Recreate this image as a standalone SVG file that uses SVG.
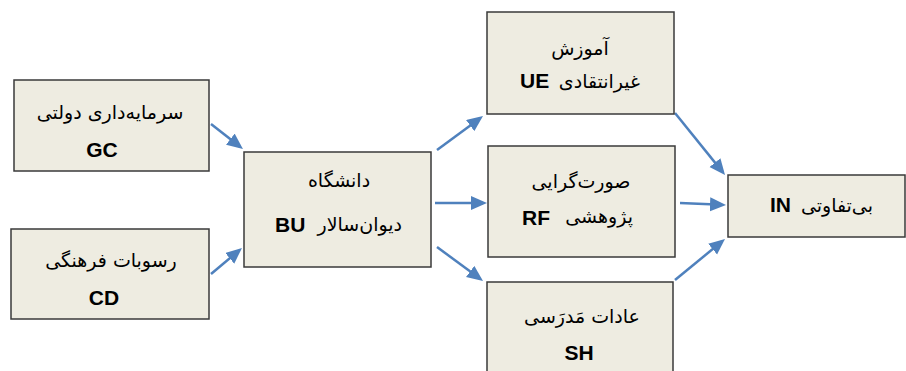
<svg xmlns="http://www.w3.org/2000/svg" width="906" height="371" viewBox="0 0 906 371">
<defs>
<style>
.box{fill:#EEECE1;stroke:#3a3a3a;stroke-width:1.5}
.fa{font-family:"DejaVu Sans","Noto Sans",sans-serif;font-size:19px;fill:#000;direction:rtl}
.en{font-family:"Liberation Sans",Arial,sans-serif;font-size:21px;font-weight:bold;fill:#000}
.arr{stroke:#4F81BD;stroke-width:2.5;fill:none;marker-end:url(#ah)}
</style>
<marker id="ah" markerUnits="userSpaceOnUse" markerWidth="17" markerHeight="15" refX="12" refY="7" orient="auto">
<path d="M0,0 L16,7 L0,14 z" fill="#4F81BD"/>
</marker>
</defs>
<rect width="906" height="371" fill="#fff"/>
<g id="connectors">
<line class="arr" x1="211" y1="124" x2="239.8" y2="146.5"/>
<line class="arr" x1="211" y1="274" x2="238.9" y2="250.6"/>
<line class="arr" x1="437" y1="150" x2="479.8" y2="118.4"/>
<line class="arr" x1="435" y1="203" x2="483" y2="203"/>
<line class="arr" x1="437" y1="247" x2="479.8" y2="278.6"/>
<line class="arr" x1="675" y1="113" x2="722.5" y2="171.9"/>
<line class="arr" x1="680" y1="203" x2="722" y2="204.8"/>
<line class="arr" x1="675" y1="280" x2="721.9" y2="241.5"/>
</g>
<g id="GC">
<rect class="box" x="14" y="80" width="195" height="91"/>
<text class="fa" x="110" y="119" text-anchor="middle">سرمایه‌داری دولتی</text>
<text class="en" x="102" y="157" text-anchor="middle">GC</text>
</g>
<g id="CD">
<rect class="box" x="11" y="229" width="198" height="90"/>
<text class="fa" x="111" y="267" text-anchor="middle">رسوبات فرهنگی</text>
<text class="en" x="104" y="305" text-anchor="middle">CD</text>
</g>
<g id="BU">
<rect class="box" x="244" y="152" width="187" height="115"/>
<text class="fa" x="339" y="187" text-anchor="middle">دانشگاه</text>
<text class="en" x="275" y="232">BU</text>
<text class="fa" x="402" y="231" text-anchor="start">دیوان‌سالار</text>
</g>
<g id="UE">
<rect class="box" x="487" y="12" width="187" height="102"/>
<text class="fa" x="580" y="55" text-anchor="middle">آموزش</text>
<text class="en" x="520" y="88">UE</text>
<text class="fa" x="640" y="88" text-anchor="start">غیرانتقادی</text>
</g>
<g id="RF">
<rect class="box" x="488" y="146" width="187" height="111"/>
<text class="fa" x="581" y="188" text-anchor="middle">صورت‌گرایی</text>
<text class="en" x="522" y="225">RF</text>
<text class="fa" x="633" y="223" text-anchor="start">پژوهشی</text>
</g>
<g id="SH">
<rect class="box" x="487" y="282" width="186" height="100"/>
<text class="fa" x="582" y="323" text-anchor="middle">عادات مَدرَسی</text>
<text class="en" x="579" y="360" text-anchor="middle">SH</text>
</g>
<g id="IN">
<rect class="box" x="728" y="175" width="177" height="62"/>
<text class="en" x="770" y="212">IN</text>
<text class="fa" x="873" y="212" text-anchor="start">بی‌تفاوتی</text>
</g>
</svg>
